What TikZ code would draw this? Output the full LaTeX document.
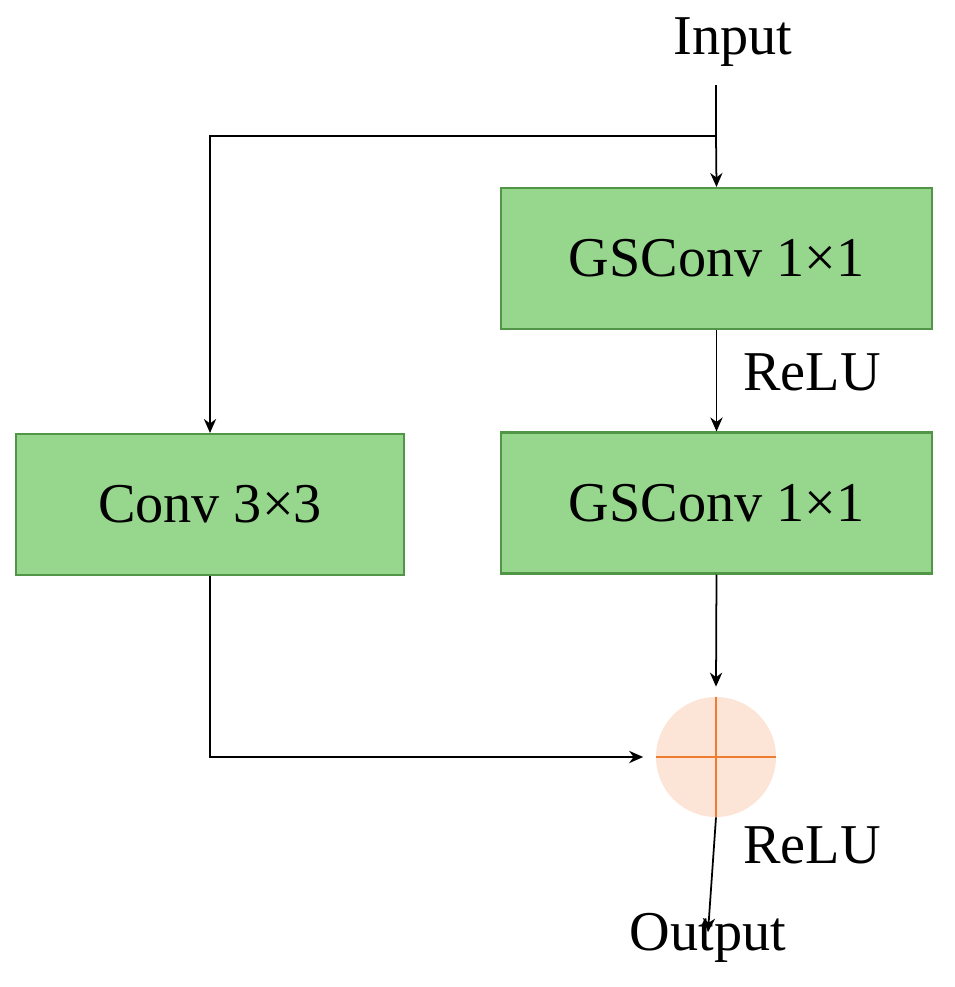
\documentclass[tikz,border=0pt]{standalone}
\usepackage{fontspec}
\setmainfont{Liberation Serif}
\usetikzlibrary{arrows.meta,positioning}
\definecolor{boxgreen}{RGB}{151,214,141}
\definecolor{boxedge}{RGB}{80,150,70}
\definecolor{sumfill}{RGB}{252,228,214}
\definecolor{sumline}{RGB}{237,125,49}
\tikzset{
  block/.style={draw=boxedge, fill=boxgreen, line width=1.2pt, minimum width=8.62cm, minimum height=2.82cm, font=\fontsize{32}{36}\selectfont},
  lbl/.style={font=\fontsize{32}{36}\selectfont},
  arr/.style={-{Stealth[length=8pt,width=7pt]}, line width=1pt}
}
\begin{document}
\begin{tikzpicture}[x=0.02cm,y=-0.02cm]
  \useasboundingbox (0,0) rectangle (954,987);
  % Blocks
  \node[block] (gs1) at (716.5,258.5) {GSConv 1×1};
  \node[block] (gs2) at (716.5,503) {GSConv 1×1};
  \node[block, minimum width=7.76cm] (conv) at (210,504.5) {Conv 3×3};

  % Sum
  \node[circle, fill=sumfill, minimum size=2.4cm, inner sep=0pt] (sum) at (716,757) {};
  \draw[sumline, line width=1.4pt] (sum.north) -- (sum.south) (sum.west) -- (sum.east);

  % Texts
  \node[lbl] (in) at (733,42) {Input};
  \node[lbl] (out) at (708,938) {Output};
  \node[lbl] (relu1) at (812,372) {ReLU};
  \node[lbl] (relu2) at (812,845) {ReLU};

  % Connectors
  \coordinate (split) at (716,136);
  \coordinate (inend) at (716,85);
  \draw[line width=1pt] (inend) -- (split);
  \draw[arr] (split) -- (gs1.north);
  \draw[arr] (split) -| (conv.north);
  \draw[arr] (gs1.south) -- (gs2.north);
  \draw[arr] (gs2.south) -- ([yshift=0.2cm]sum.north);
  \draw[arr] (conv.south) |- ([xshift=-0.25cm]sum.west);
  \draw[arr] (sum.south) -- ([yshift=-0.5cm]out.north);
\end{tikzpicture}
\end{document}
